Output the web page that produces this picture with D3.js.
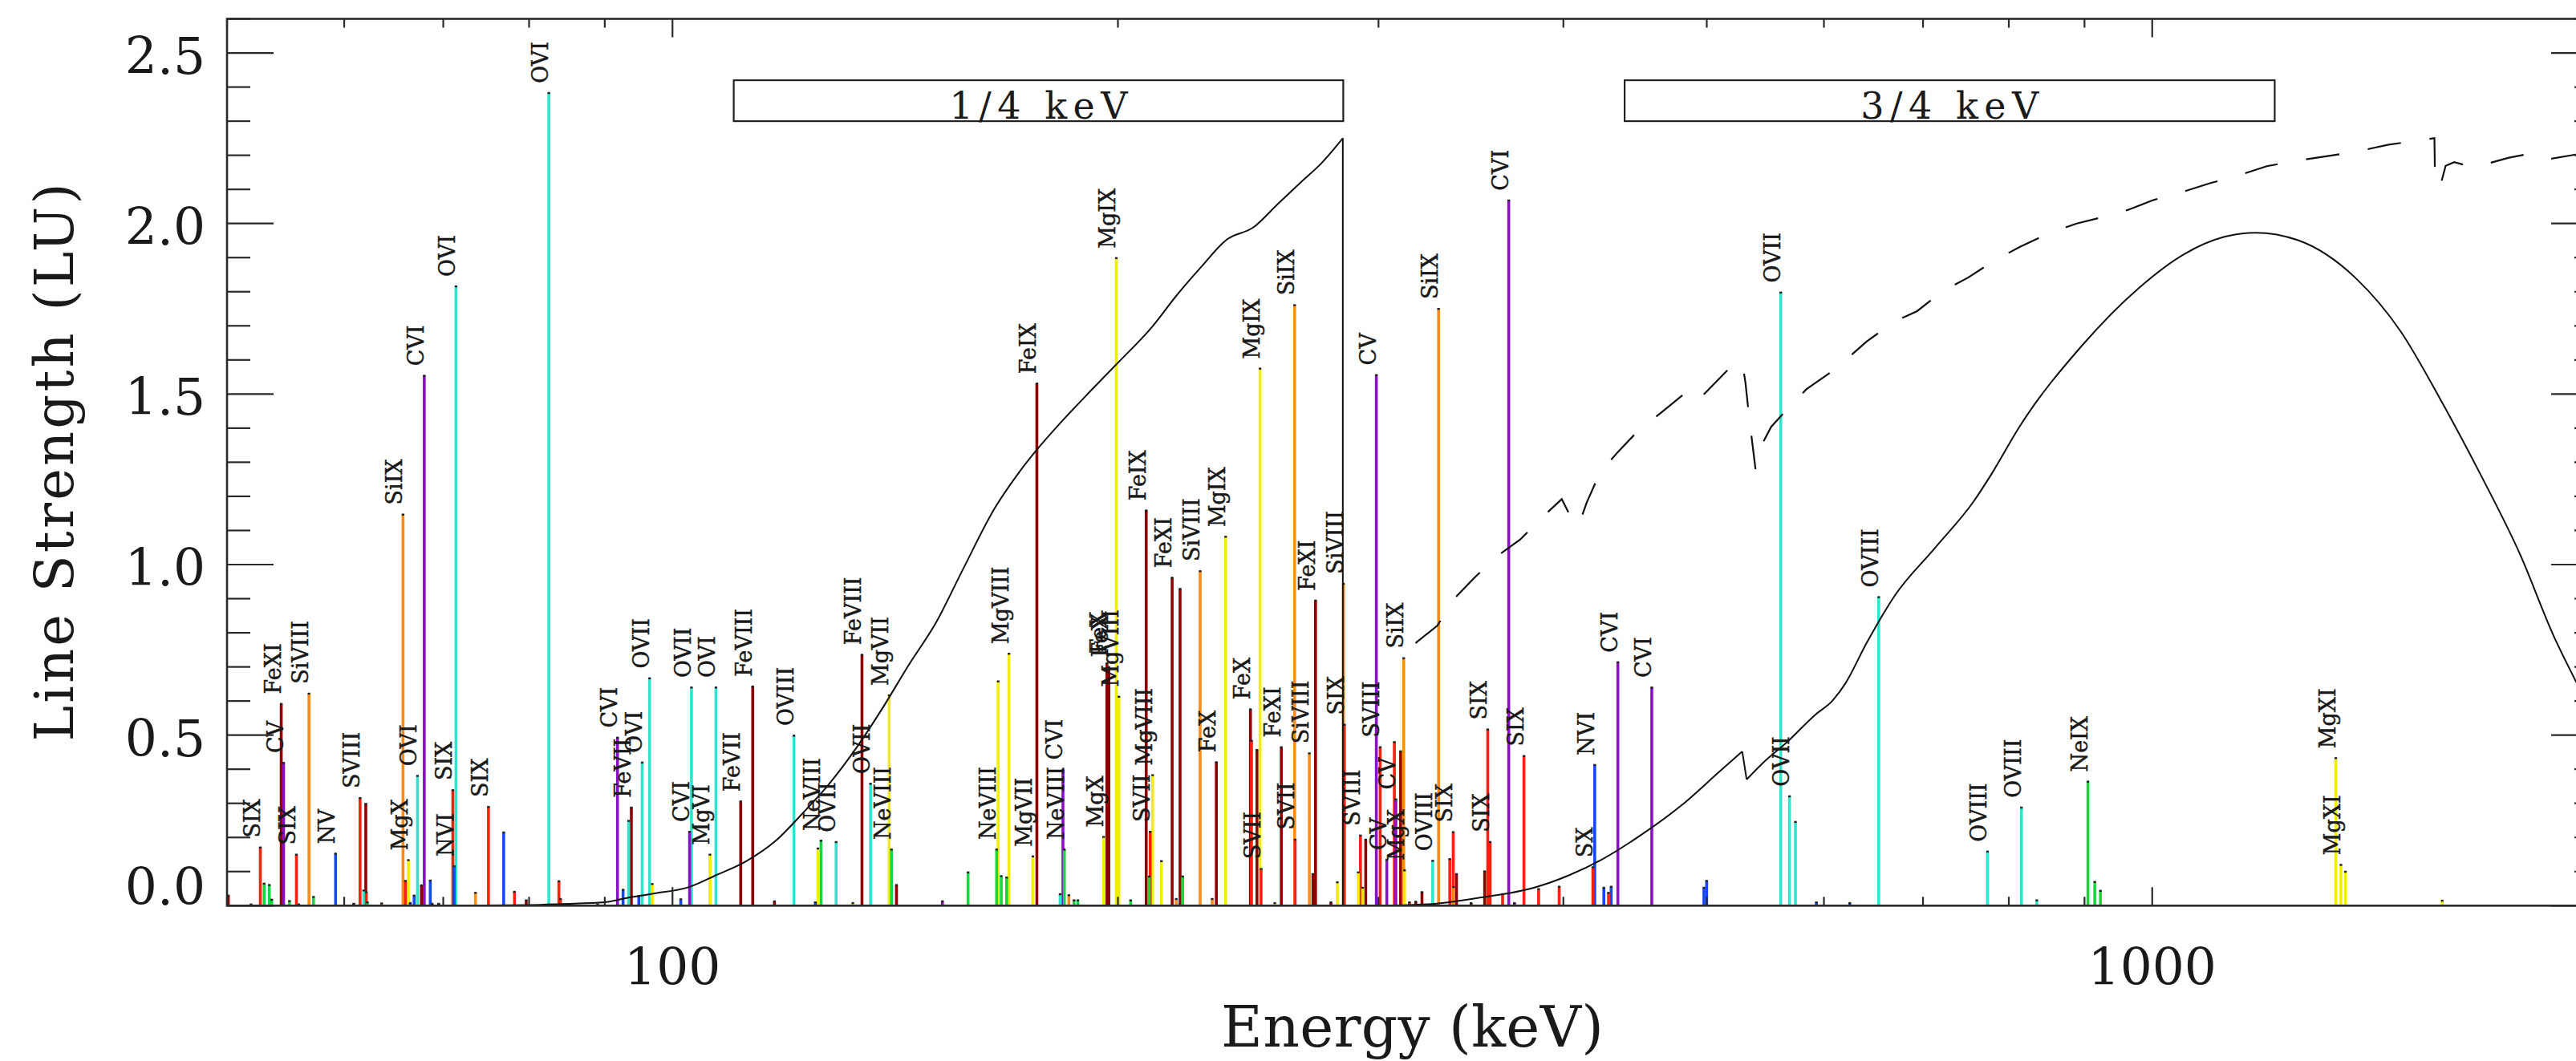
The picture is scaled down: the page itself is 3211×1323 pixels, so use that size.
<!DOCTYPE html>
<html>
<head>
<meta charset="utf-8">
<script src="https://cdn.jsdelivr.net/npm/d3@7"></script>
<style>
  html, body { margin: 0; padding: 0; background: #fff; }
  svg { display: block; }
  text { font-family: "DejaVu Serif", "Liberation Serif", serif; fill: #1a1a1a; }
</style>
</head>
<body>
<svg id="chart" width="3211" height="1323"></svg>
<script>
// ---------------- DATA ----------------
// Emission lines: energy (eV), strength (LU), element, ion label
const lineEnergy = [50.1,51.9,52.66,52.97,53.4,53.6,54.4,54.6,55.1,55.7,55.9,56.8,57.2,59.2,60.9,61.5,61.85,62.05,62.1,62.2,63.6,65.75,66.0,66.3,66.5,66.9,67.25,67.66,67.96,68.6,68.8,69.5,71.05,71.2,71.4,73.6,75.1,76.9,78.2,79.65,82.5,83.8,84.0,89.0,91.8,92.6,93.4,93.8,94.9,95.4,96.5,96.9,101.3,102.7,103.0,106.0,107.0,111.2,113.3,117.2,120.8,124.9,125.4,126.0,129.0,132.4,134.3,136.1,140.1,140.6,141.7,152.2,158.4,165.6,166.0,166.8,168.2,168.8,175.2,176.3,182.8,183.6,184.0,185.3,186.8,187.9,195.6,196.6,197.2,199.5,200.3,204.0,209.0,210.0,210.3,211.1,214.0,217.6,219.0,220.3,221.2,227.3,231.6,233.1,236.5,245.8,246.2,248.3,249.5,249.9,255.3,257.9,263.3,263.5,269.4,270.9,272.0,278.6,281.4,284.1,284.5,290.7,291.7,292.7,294.1,299.0,300.8,303.9,307.5,308.2,310.5,312.0,312.4,314.8,317.9,321.0,326.4,329.4,335.2,337.0,337.2,338.7,346.5,353.9,355.6,356.9,363.9,367.4,370.7,376.2,384.9,397.4,418.8,420.0,426.0,429.1,430.9,435.4,459.0,497.8,499.9,561.0,568.7,574.0,593.0,624.6,653.4,773.9,815.9,835.6,904.8,914.5,922.6,1330.6,1341.3,1350.7,1570.3];
const lineStrength = [0.030,0.004,0.171,0.065,0.061,0.018,0.592,0.419,0.014,0.150,0.004,0.622,0.026,0.153,0.006,0.316,0.045,0.299,0.040,0.010,0.007,1.147,0.073,0.134,0.008,0.030,0.381,0.060,1.554,0.074,0.006,0.006,0.339,0.116,1.816,0.038,0.290,0.215,0.041,0.016,2.383,0.072,0.020,0.004,0.493,0.047,0.249,0.288,0.028,0.420,0.667,0.064,0.019,0.217,0.640,0.150,0.640,0.306,0.643,0.013,0.499,0.010,0.168,0.191,0.187,0.008,0.736,0.358,0.617,0.165,0.061,0.013,0.098,0.165,0.658,0.087,0.083,0.739,0.145,1.531,0.034,0.399,0.165,0.031,0.016,0.016,0.202,0.711,0.700,1.899,0.613,0.016,1.159,0.086,0.217,0.383,0.131,0.962,0.020,0.929,0.086,0.981,0.020,0.421,1.082,0.576,0.484,0.457,1.575,0.108,0.008,0.465,1.761,0.194,0.447,0.093,0.895,0.010,0.069,0.944,0.531,0.098,0.206,0.053,0.194,1.556,0.465,0.135,0.480,0.312,0.453,0.726,0.104,0.010,0.012,0.040,0.132,1.750,0.137,0.216,0.055,0.093,0.008,0.101,0.517,0.187,0.034,2.068,0.008,0.439,0.049,0.056,0.113,0.413,0.053,0.038,0.056,0.714,0.640,0.053,0.073,1.798,0.321,0.246,0.010,0.008,0.905,0.159,0.288,0.016,0.364,0.070,0.044,0.433,0.120,0.100,0.015];
const lineElement = ["Fe","Si","S","Ne","Ne","Ne","Fe","C","Ne","S","Mg","Si","Ne","N","Fe","S","O","Fe","S","Ne","Si","Si","S","Mg","N","N","O","Fe","C","N","Fe","Fe","S","N","O","Si","S","N","S","Fe","O","S","S","S","C","N","O","Fe","N","O","O","Mg","N","C","O","Mg","O","Fe","Fe","Fe","O","N","Mg","Ne","O","Mg","Fe","O","Mg","Ne","Fe","C","Ne","Ne","Mg","Ne","Ne","Mg","Mg","Fe","O","C","Ne","Si","Ne","Ne","Mg","Fe","Fe","Mg","Mg","Ne","Fe","Ne","S","Mg","Mg","Fe","Si","Fe","Ne","Si","Si","Fe","Mg","Fe","S","Fe","Mg","S","Mg","Fe","Si","S","Si","Fe","Fe","Fe","Mg","Si","S","Mg","S","Mg","Fe","C","S","C","S","C","Fe","Si","Mg","S","Fe","Fe","O","Si","S","S","Si","Fe","Fe","Fe","S","S","S","C","C","S","S","S","S","N","N","S","N","C","C","N","N","O","O","O","N","N","O","O","O","O","Ne","Ne","Ne","Mg","Mg","Mg","Mg"];
const lineLabel = ["","","SIX","","","","FeXI","CV","","SIX","","SiVIII","","NV","","SVIII","","","","","","SiIX","","MgX","","","OVI","","CVI","","","","SIX","NVI","OVI","","SIX","","","","OVI","","","","CVI","","","FeVII","","OVI","OVII","","","CVI","OVII","MgVI","OVI","FeVII","FeVIII","","OVIII","","","NeVIII","OVII","","FeVIII","OVII","MgVII","NeVIII","","","","NeVIII","","","","MgVIII","MgVII","FeIX","","CVI","NeVIII","","","","MgX","FeX","FeX","MgIX","MgVIII","","FeIX","","SVII","MgVIII","","FeXI","","","","SiVIII","","FeX","MgIX","FeX","","","MgIX","SVII","","FeXI","SiIX","SVII","SiVIII","","FeXI","","","SiVIII","SIX","","SVIII","","","CV","SVIII","CV","","CV","","SiIX","MgX","","","","OVIII","SiIX","","SIX","","","","","SIX","SIX","","CVI","","SIX","","","SX","NVI","","","","CVI","CVI","","","OVII","OVII","","","","OVIII","OVIII","OVIII","","NeIX","","","MgXI","MgXI","",""];

// Effective-area style curves (energy eV, value)
const quarterE = [50,70,80,84.2,90,93,96.9,102.7,107.1,112.1,117.4,122.4,127.5,133,138.7,144.4,150.7,157.1,165.1,170.8,176.4,182.4,190.1,199.1,211.2,219.2,227.6,237.1,246.8,256.6,266.3,274.4,283.8];
const quarterV = [0,0,0.002,0.005,0.01,0.022,0.035,0.055,0.09,0.13,0.19,0.27,0.355,0.46,0.58,0.705,0.83,0.985,1.165,1.26,1.338,1.41,1.493,1.583,1.70,1.79,1.872,1.954,1.988,2.058,2.124,2.176,2.25];
const quarterEdge = 283.8;
const threeQuarterE = [284,300,324,352,382.4,404,424.6,452,481,512,528.4];
const threeQuarterV = [0,0,0.004,0.024,0.053,0.09,0.135,0.209,0.295,0.40,0.452];
const threeQuarterE2 = [532,545.2,568,592,607.7,620,641.2,669.9,712.9,757.9,778.9,813.6,896.9,980,1051.7,1118.9,1174.5,1254.7,1370.9,1472.3,1565.5,1665.9,1773.4,1868,1932,2000];
const threeQuarterV2 = [0.37,0.417,0.484,0.56,0.60,0.65,0.77,0.909,1.048,1.187,1.266,1.405,1.643,1.812,1.911,1.961,1.973,1.951,1.842,1.683,1.485,1.266,1.028,0.79,0.66,0.53];
const dashE = [317.8,328.8,337.5,347.8,361.1,373.9,386.7,399.0,406.5,409.6,414.8,423.6,435.4,449.7,465.3,482.9,490.8,498.2,517.2,528.3,531.0,534.3,539.4,543.8,552.7,568.7,583.8,610.7,641.2,669.9,693.6,722.0,751.3,781.8,813.6,850.0,889.1,928.7,963.0,1002.3,1041.8,1093.8,1138.3,1195.1,1243.8,1311.0,1370.9,1444.6,1515.0,1551.4,1553.0,1566.4,1578.7,1600,1624.5,1657.3,1692.8,1742.1,1813.1,1861.1,1932.1,2000];
const dashV = [0.770,0.821,0.900,0.959,1.026,1.073,1.137,1.192,1.122,1.115,1.182,1.271,1.330,1.394,1.444,1.501,1.528,1.501,1.573,1.594,1.534,1.425,1.28,1.345,1.404,1.463,1.514,1.573,1.654,1.713,1.743,1.802,1.842,1.891,1.931,1.970,2.000,2.020,2.040,2.069,2.089,2.118,2.138,2.168,2.182,2.197,2.210,2.231,2.244,2.250,2.11,2.114,2.169,2.18,2.172,2.165,2.178,2.193,2.207,2.19,2.202,2.20];

// Band boxes
const bandLabel = ["1/4 keV", "3/4 keV"];
const bandLo = [110, 440];
const bandHi = [284, 1210];
const bandBottom = 2.30, bandTop = 2.42;

// Axes
const yTickValues = [0, 0.5, 1.0, 1.5, 2.0, 2.5];
const yTickLabels = ["0.0", "0.5", "1.0", "1.5", "2.0", "2.5"];
const xTickValues = [100, 1000];
const xTickLabels = ["100", "1000"];
const xDomain = [50, 2000];
const yDomain = [0, 2.6];
const xTitle = "Energy (keV)";
const yTitle = "Line Strength (LU)";

const elementColor = {O:"#2fe3cc", C:"#8a10c4", S:"#ff1f0f", Fe:"#8e0000", Si:"#ff8c1a", Mg:"#f0ec0c", Ne:"#14d83c", N:"#1446ff"};

// ---------------- DRAW ----------------
const svg = d3.select("#chart");
const L = 283, R = 3238, T = 23.5, B = 1129.3;
const x = d3.scaleLog().domain(xDomain).range([L, R]);
const y = d3.scaleLinear().domain(yDomain).range([B, T]);

svg.append("rect").attr("width", 3211).attr("height", 1323).attr("fill", "#fff");

const defs = svg.append("defs");
defs.append("clipPath").attr("id", "plotclip").append("rect")
  .attr("x", L).attr("y", T).attr("width", R - L).attr("height", B - T);

const plot = svg.append("g").attr("clip-path", "url(#plotclip)");

// bars (taller first so shorter ones sit on top)
const lines = lineEnergy.map((e, i) => ({e, v: lineStrength[i], el: lineElement[i], lab: lineLabel[i]}));
const drawOrder = lines.slice().sort((a, b) => b.v - a.v);
plot.selectAll("line.bar").data(drawOrder).join("line")
  .attr("class", "bar")
  .attr("x1", d => x(d.e)).attr("x2", d => x(d.e))
  .attr("y1", y(0)).attr("y2", d => y(d.v))
  .attr("stroke", d => elementColor[d.el]).attr("stroke-width", 3.6);
plot.selectAll("rect.cap").data(drawOrder).join("rect")
  .attr("class", "cap")
  .attr("x", d => x(d.e) - 1.6).attr("y", d => y(d.v) - 1)
  .attr("width", 3.2).attr("height", 2.4).attr("fill", "#222");

// curves
const smooth = d3.line().x(d => x(d[0])).y(d => y(d[1])).curve(d3.curveMonotoneX);
const straight = d3.line().x(d => x(d[0])).y(d => y(d[1]));
const qPts = quarterE.map((e, i) => [e, quarterV[i]]);
plot.append("path").datum(qPts)
  .attr("d", smooth).attr("fill", "none").attr("stroke", "#111").attr("stroke-width", 2);
// vertical drop at the band edge
plot.append("path").datum([[quarterEdge, quarterV[quarterV.length - 1]], [quarterEdge, 0]])
  .attr("d", straight).attr("fill", "none").attr("stroke", "#111").attr("stroke-width", 2);
const t1 = threeQuarterE.map((e, i) => [e, threeQuarterV[i]]);
const t2 = threeQuarterE2.map((e, i) => [e, threeQuarterV2[i]]);
plot.append("path").datum(t1).attr("d", smooth).attr("fill", "none").attr("stroke", "#111").attr("stroke-width", 2);
plot.append("path").datum([t1[t1.length - 1], t2[0]]).attr("d", straight).attr("fill", "none").attr("stroke", "#111").attr("stroke-width", 2);
plot.append("path").datum(t2).attr("d", smooth).attr("fill", "none").attr("stroke", "#111").attr("stroke-width", 2);
plot.append("path").datum(dashE.map((e, i) => [e, dashV[i]]))
  .attr("d", straight).attr("fill", "none").attr("stroke", "#111").attr("stroke-width", 2.2)
  .attr("stroke-dasharray", "42 36");

// band boxes
bandLabel.forEach((lab, i) => {
  const x0 = x(bandLo[i]), x1 = x(bandHi[i]);
  svg.append("rect").attr("x", x0).attr("y", y(bandTop))
    .attr("width", x1 - x0).attr("height", y(bandBottom) - y(bandTop))
    .attr("fill", "none").attr("stroke", "#222").attr("stroke-width", 2.2);
  svg.append("text").attr("x", (x0 + x1) / 2).attr("y", y(bandBottom) - 3.5)
    .attr("text-anchor", "middle").attr("font-size", 46)
    .attr("textLength", 222).attr("lengthAdjust", "spacing").text(lab);
});

// ion labels
svg.append("g").selectAll("text").data(lines.filter(d => d.lab)).join("text")
  .attr("transform", d => `translate(${x(d.e) - 1},${y(d.v) - 12}) rotate(-90)`)
  .attr("font-size", 27).attr("fill", "#111")
  .attr("stroke", "#111").attr("stroke-width", 0.45).text(d => d.lab);

// axes frame
const axisColor = "#2a2a2a";
svg.append("rect").attr("x", L).attr("y", T).attr("width", R - L).attr("height", B - T)
  .attr("fill", "none").attr("stroke", axisColor).attr("stroke-width", 2.6);

// y ticks (left & right)
const yMinor = d3.range(0, 2.61, 0.1);
const axG = svg.append("g").attr("stroke", axisColor).attr("stroke-width", 2.2);
yMinor.forEach(v => {
  const major = Math.abs(v * 2 - Math.round(v * 2)) < 1e-6;
  const len = major ? 58 : 29;
  axG.append("line").attr("x1", L).attr("x2", L + len).attr("y1", y(v)).attr("y2", y(v));
  axG.append("line").attr("x1", R).attr("x2", R - len).attr("y1", y(v)).attr("y2", y(v));
});
// x ticks (top & bottom)
const xMinorVals = [];
[10, 100, 1000].forEach(dec => { for (let k = 1; k < 10; k++) { const v = dec * k; if (v >= 50 && v <= 2000) xMinorVals.push(v); } });
xMinorVals.forEach(v => {
  const major = xTickValues.includes(v);
  const len = major ? 23 : 11;
  axG.append("line").attr("x1", x(v)).attr("x2", x(v)).attr("y1", B).attr("y2", B - len);
  axG.append("line").attr("x1", x(v)).attr("x2", x(v)).attr("y1", T).attr("y2", T + len);
});

// tick labels
yTickValues.forEach((v, i) => {
  svg.append("text").attr("x", 256).attr("y", v === 0 ? y(v) - 1 : y(v) + 26)
    .attr("text-anchor", "end").attr("font-size", 63).text(yTickLabels[i]);
});
xTickValues.forEach((v, i) => {
  svg.append("text").attr("x", x(v)).attr("y", 1228)
    .attr("text-anchor", "middle").attr("font-size", 63).text(xTickLabels[i]);
});

// axis titles
svg.append("text").attr("x", (L + R) / 2).attr("y", 1305)
  .attr("text-anchor", "middle").attr("font-size", 71)
  .attr("textLength", 477).attr("lengthAdjust", "spacing").text(xTitle);
svg.append("text").attr("transform", `translate(91,${(T + B) / 2}) rotate(-90)`)
  .attr("text-anchor", "middle").attr("font-size", 67)
  .attr("textLength", 696).attr("lengthAdjust", "spacing").text(yTitle);
</script>
</body>
</html>
